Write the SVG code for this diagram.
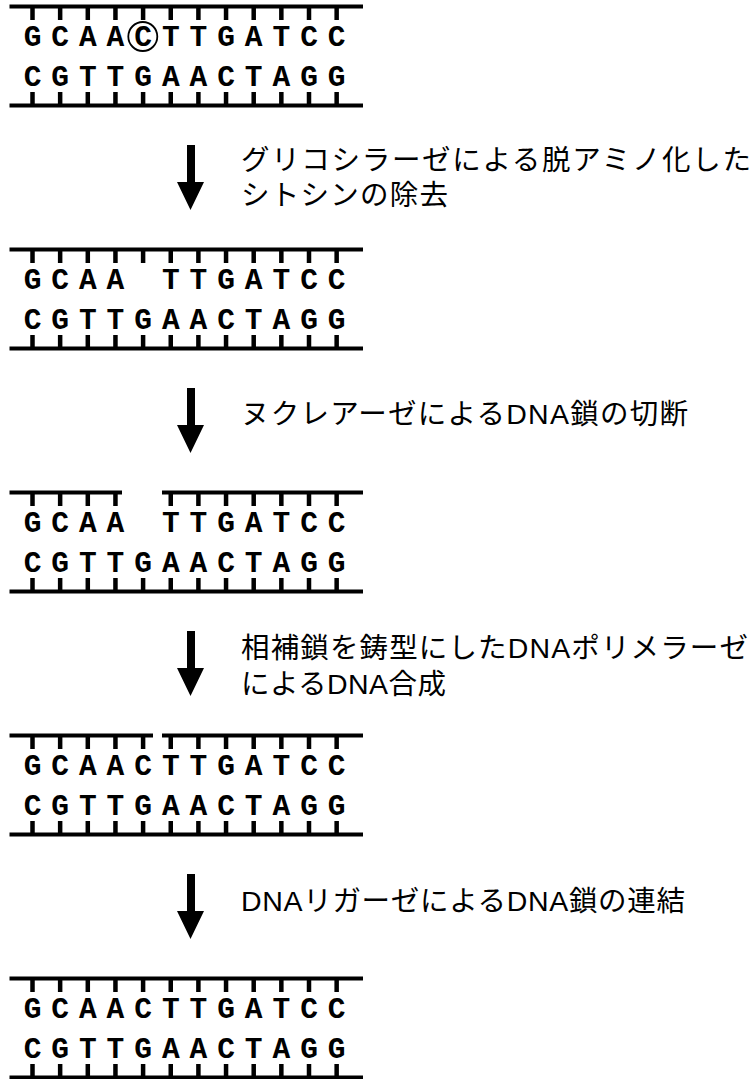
<svg xmlns="http://www.w3.org/2000/svg" width="754" height="1079" viewBox="0 0 754 1079">
<style>
.bk{stroke:#000;fill:none;stroke-width:4}
.tk{stroke:#000;fill:none;stroke-width:4.5}
.base{font-family:"Liberation Mono","Courier New",monospace;font-weight:bold;font-size:29.5px;fill:#000;text-anchor:middle}
.lbl{font-family:"Liberation Sans","Noto Sans CJK JP",sans-serif;font-size:28.5px;fill:#000}
.arr{fill:#000}
</style>
<defs>
<path id="topTicks" class="tk" d="M32.5 6.5V20M60.15 6.5V20M87.8 6.5V20M115.45 6.5V20M143.1 6.5V20M170.75 6.5V20M198.4 6.5V20M226.05 6.5V20M253.7 6.5V20M281.35 6.5V20M309 6.5V20M336.65 6.5V20"/>
<path id="botStrand" class="bk" d="M9.5 105.5H363"/>
<path id="botTicks" class="tk" d="M32.5 92V105.5M60.15 92V105.5M87.8 92V105.5M115.45 92V105.5M143.1 92V105.5M170.75 92V105.5M198.4 92V105.5M226.05 92V105.5M253.7 92V105.5M281.35 92V105.5M309 92V105.5M336.65 92V105.5"/>
<text id="row2" class="base" x="32.5 60.15 87.8 115.45 143.1 170.75 198.4 226.05 253.7 281.35 309 336.65" y="85.5">CGTTGAACTAGG</text>
</defs>

<g id="panel1">
<path class="bk" d="M9.5 6.5H363"/>
<use href="#topTicks"/>
<text class="base" x="32.5 60.15 87.8 115.45 143.1 170.75 198.4 226.05 253.7 281.35 309 336.65" y="45.5">GCAACTTGATCC</text>
<circle cx="142.8" cy="36.5" r="14.5" fill="none" stroke="#000" stroke-width="1.8"/>
<use href="#row2"/>
<use href="#botTicks"/>
<use href="#botStrand"/>
</g>

<g id="panel2" transform="translate(0,243)">
<path class="bk" d="M9.5 6.5H363"/>
<use href="#topTicks"/>
<text class="base" x="32.5 60.15 87.8 115.45 170.75 198.4 226.05 253.7 281.35 309 336.65" y="45.5">GCAATTGATCC</text>
<use href="#row2"/>
<use href="#botTicks"/>
<use href="#botStrand"/>
</g>

<g id="panel3" transform="translate(0,486)">
<path class="bk" d="M9.5 6.5H122M162 6.5H363"/>
<path class="tk" d="M32.5 6.5V20M60.15 6.5V20M87.8 6.5V20M115.45 6.5V20M170.75 6.5V20M198.4 6.5V20M226.05 6.5V20M253.7 6.5V20M281.35 6.5V20M309 6.5V20M336.65 6.5V20"/>
<text class="base" x="32.5 60.15 87.8 115.45 170.75 198.4 226.05 253.7 281.35 309 336.65" y="45.5">GCAATTGATCC</text>
<use href="#row2"/>
<use href="#botTicks"/>
<use href="#botStrand"/>
</g>

<g id="panel4" transform="translate(0,729)">
<path class="bk" d="M9.5 6.5H153M162 6.5H363"/>
<use href="#topTicks"/>
<text class="base" x="32.5 60.15 87.8 115.45 143.1 170.75 198.4 226.05 253.7 281.35 309 336.65" y="45.5">GCAACTTGATCC</text>
<use href="#row2"/>
<use href="#botTicks"/>
<use href="#botStrand"/>
</g>

<g id="panel5" transform="translate(0,972)">
<path class="bk" d="M9.5 6.5H363"/>
<use href="#topTicks"/>
<text class="base" x="32.5 60.15 87.8 115.45 143.1 170.75 198.4 226.05 253.7 281.35 309 336.65" y="45.5">GCAACTTGATCC</text>
<use href="#row2"/>
<use href="#botTicks"/>
<use href="#botStrand"/>
</g>

<g id="connectors">
<path class="arr" d="M187 145H195V182H204L190.5 210L177 182H187Z"/>
<path class="arr" d="M187 388H195V425H204L190.5 453L177 425H187Z"/>
<path class="arr" d="M187 631H195V668H204L190.5 696L177 668H187Z"/>
<path class="arr" d="M187 874H195V911H204L190.5 939L177 911H187Z"/>
</g>

<g id="label1">
<text class="lbl" x="241" y="170" textLength="510" lengthAdjust="spacing">グリコシラーゼによる脱アミノ化した</text>
<text class="lbl" x="241" y="205" textLength="207" lengthAdjust="spacing">シトシンの除去</text>
</g>
<g id="label2">
<text class="lbl" x="241" y="424" textLength="447" lengthAdjust="spacing">ヌクレアーゼによるDNA鎖の切断</text>
</g>
<g id="label3">
<text class="lbl" x="241" y="658" textLength="507" lengthAdjust="spacing">相補鎖を鋳型にしたDNAポリメラーゼ</text>
<text class="lbl" x="241" y="694" textLength="205" lengthAdjust="spacing">によるDNA合成</text>
</g>
<g id="label4">
<text class="lbl" x="241" y="911" textLength="444" lengthAdjust="spacing">DNAリガーゼによるDNA鎖の連結</text>
</g>
</svg>
